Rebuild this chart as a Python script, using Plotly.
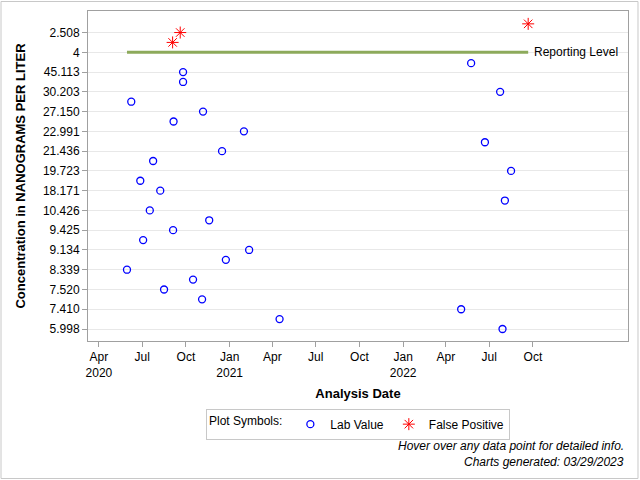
import plotly.graph_objects as go

# ---- data ----
y_tick_labels = ["5.998", "7.410", "7.520", "8.339", "9.134", "9.425", "10.426", "18.171",
                 "19.723", "21.436", "22.991", "27.150", "30.203", "45.113", "4", "2.508"]
y_tick_pos = list(range(len(y_tick_labels)))

lab_dates = ["2020-05-30", "2020-06-08", "2020-06-27", "2020-07-03", "2020-07-17", "2020-07-24",
             "2020-08-08", "2020-08-16", "2020-09-04", "2020-09-05", "2020-09-25", "2020-09-25",
             "2020-10-16", "2020-11-04", "2020-11-06", "2020-11-19", "2020-12-16", "2020-12-24",
             "2021-01-31", "2021-02-11", "2021-04-16", "2022-05-03", "2022-05-24", "2022-06-22",
             "2022-07-24", "2022-07-29", "2022-08-03", "2022-08-16"]
lab_levels = [3.0, 11.5, 7.5, 4.5, 6.0, 8.5,
              7.0, 2.0, 5.0, 10.5, 13.0, 12.5,
              2.5, 1.5, 11.0, 5.5, 9.0, 3.5,
              10.0, 4.0, 0.5, 1.0, 13.45, 9.45,
              12.0, 0.0, 6.5, 8.0]

fp_dates = ["2020-09-03", "2020-09-19", "2022-09-21"]
fp_levels = [14.5, 15.0, 15.44]

reporting_level = 14
reporting_dates = ["2020-05-30", "2022-09-21"]

x_tick_vals = ["2020-04-01", "2020-07-01", "2020-10-01", "2021-01-01", "2021-04-01", "2021-07-01",
               "2021-10-01", "2022-01-01", "2022-04-01", "2022-07-01", "2022-10-01"]
x_tick_text = ["Apr<br>2020", "Jul", "Oct", "Jan<br>2021", "Apr", "Jul",
               "Oct", "Jan<br>2022", "Apr", "Jul", "Oct"]

FONT = "Liberation Sans, Arial, sans-serif"

fig = go.Figure()

fig.add_trace(go.Scatter(
    x=reporting_dates, y=[reporting_level] * len(reporting_dates),
    mode="lines", line=dict(color="#8DAA5B", width=3),
    showlegend=False, hoverinfo="skip"))

fig.add_trace(go.Scatter(
    x=lab_dates, y=lab_levels, mode="markers", name="Lab Value",
    marker=dict(symbol="circle-open", size=7, color="#0000FF", line=dict(width=1.3, color="#0000FF"))))

fig.add_trace(go.Scatter(
    x=fp_dates, y=fp_levels, mode="markers", name="False Positive",
    marker=dict(symbol="asterisk-open", size=10, color="#FF0000", line=dict(width=1, color="#FF0000"))))

fig.add_annotation(x=reporting_dates[-1], y=reporting_level, xref="x", yref="y",
                   text="Reporting Level", showarrow=False, xanchor="left", xshift=4,
                   font=dict(family=FONT, size=12, color="#000000"))

fig.add_annotation(x=0.9963, y=-0.3167, xref="paper", yref="paper",
                   text="<i>Hover over any data point for detailed info.</i>", showarrow=False,
                   xanchor="right", yanchor="middle", font=dict(family=FONT, size=12, color="#000000"))
fig.add_annotation(x=0.9963, y=-0.3667, xref="paper", yref="paper",
                   text="<i>Charts generated: 03/29/2023</i>", showarrow=False,
                   xanchor="right", yanchor="middle", font=dict(family=FONT, size=12, color="#000000"))

fig.add_shape(type="rect", xref="paper", yref="paper",
              x0=-0.1611, x1=1.0185, y0=-0.4167, y1=1.0288,
              line=dict(color="#C8C8C8", width=1), fillcolor="rgba(0,0,0,0)", layer="below")

fig.update_layout(
    width=640, height=480,
    margin=dict(l=88, r=12, t=11, b=139),
    paper_bgcolor="white", plot_bgcolor="white",
    font=dict(family=FONT, size=12, color="#000000"),
    showlegend=True,
    legend=dict(orientation="h", x=0.5, xanchor="center", y=-0.205, yanchor="top",
                title=dict(text="Plot Symbols:", font=dict(family=FONT, size=12)),
                bordercolor="#C8C8C8", borderwidth=1, bgcolor="white",
                font=dict(family=FONT, size=12), itemwidth=30, tracegroupgap=0),
    xaxis=dict(
        type="date", range=["2020-03-09", "2023-04-19"],
        tickmode="array", tickvals=x_tick_vals, ticktext=x_tick_text,
        ticks="outside", ticklen=5, tickcolor="#A0A0A0",
        showgrid=False, showline=True, linecolor="#A0A0A0", mirror=True, zeroline=False,
        tickfont=dict(family=FONT, size=12),
        title=dict(text="<b>Analysis Date</b>", font=dict(family=FONT, size=13), standoff=9)),
    yaxis=dict(
        range=[-0.607, 16.09],
        tickmode="array", tickvals=y_tick_pos, ticktext=y_tick_labels,
        ticks="outside", ticklen=5, tickcolor="#A0A0A0",
        showgrid=True, gridcolor="#E8E8E8", gridwidth=1,
        showline=True, linecolor="#A0A0A0", mirror=True, zeroline=False,
        tickfont=dict(family=FONT, size=12),
        title=dict(text="<b>Concentration in NANOGRAMS PER LITER</b>", font=dict(family=FONT, size=13), standoff=14)),
)

fig.write_html("out.html", config={"displayModeBar": False},
               post_script="document.body.style.margin='0';")
